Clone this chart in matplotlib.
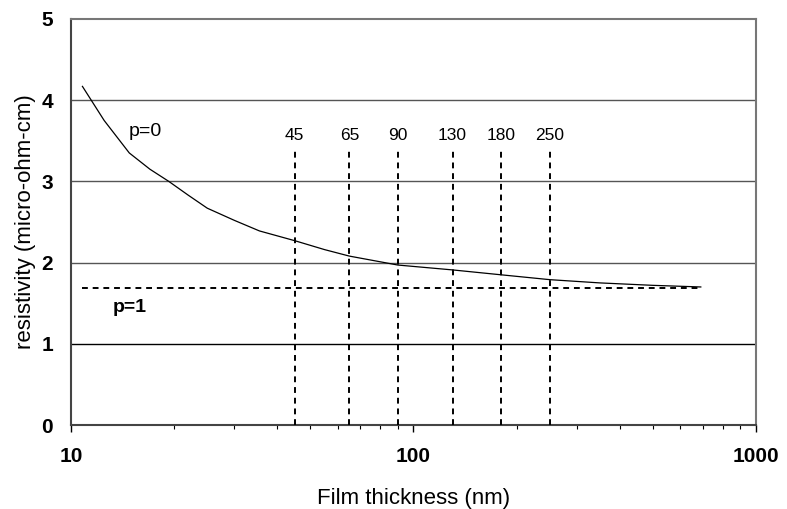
import matplotlib
matplotlib.use("Agg")
import matplotlib.pyplot as plt
from matplotlib.ticker import LogLocator, NullFormatter, FixedLocator, FixedFormatter

plt.rcParams['font.family'] = ['Liberation Sans', 'DejaVu Sans']

# p=0 curve (film thickness in nm, resistivity in micro-ohm-cm)
thickness_p0 = [10.8, 12.5, 14.8, 17.0, 19.3, 22.0, 25.0, 30.0, 35.5, 45, 55, 65, 90, 130, 180, 250, 350, 500, 690]
resistivity_p0 = [4.17, 3.75, 3.35, 3.15, 3.00, 2.83, 2.67, 2.52, 2.39, 2.27, 2.16, 2.08, 1.97, 1.91, 1.85, 1.79, 1.75, 1.72, 1.70]

# p=1 bulk line
thickness_p1 = [10.8, 690]
resistivity_p1 = [1.69, 1.69]

# technology nodes
nodes = [45, 65, 90, 130, 180, 250]
node_labels = ["45", "65", "90", "130", "180", "250"]
node_top = 3.41
node_label_y = 3.57

fig = plt.figure(figsize=(7.87, 5.09), dpi=100)
ax = fig.add_axes([0.0902, 0.165, 0.8704, 0.7977])

ax.set_xscale('log')
ax.set_xlim(10, 1000)
ax.set_ylim(0, 5)

for yv in [1, 2, 3, 4]:
    ax.axhline(yv, color='black' if yv == 1 else '#555555', lw=1.0, zorder=1)

ax.plot(thickness_p0, resistivity_p0, color='black', lw=0.9, zorder=3)
ax.plot(thickness_p1, resistivity_p1, color='black', lw=1.4, ls=(0, (3, 2.5)), zorder=3)

for n, lab in zip(nodes, node_labels):
    ax.plot([n, n], [0, node_top], color='black', lw=1.4, ls=(0, (3, 2.5)), zorder=3)
    ax.text(n, node_label_y, lab, ha='center', va='center', fontsize=12.5)

ax.text(16.5, 3.62, "p=0", ha='center', va='center', fontsize=14)
ax.text(14.8, 1.45, "p=1", ha='center', va='center', fontsize=14, fontweight='bold')

ax.set_yticks([0, 1, 2, 3, 4, 5])
ax.xaxis.set_major_locator(FixedLocator([10, 100, 1000]))
ax.xaxis.set_major_formatter(FixedFormatter(["10", "100", "1000"]))
ax.xaxis.set_minor_locator(LogLocator(base=10, subs=range(2, 10)))
ax.xaxis.set_minor_formatter(NullFormatter())
ax.tick_params(axis='x', which='major', direction='out', length=5, width=1, pad=11, labelsize=15)
ax.tick_params(axis='x', which='minor', direction='out', length=3, width=0.8)
ax.tick_params(axis='y', which='both', length=0, pad=13, labelsize=15)
for lab in ax.get_xticklabels() + ax.get_yticklabels():
    lab.set_fontweight('bold')

for side in ['top', 'right']:
    ax.spines[side].set_color('#777777')
    ax.spines[side].set_linewidth(1.5)
for side in ['left', 'bottom']:
    ax.spines[side].set_color('#444444')
    ax.spines[side].set_linewidth(1.5)

ax.set_xlabel("Film thickness (nm)", fontsize=16, labelpad=16)
ax.set_ylabel("resistivity (micro-ohm-cm)", fontsize=16, labelpad=4)

fig.savefig("out.png", dpi=100)
